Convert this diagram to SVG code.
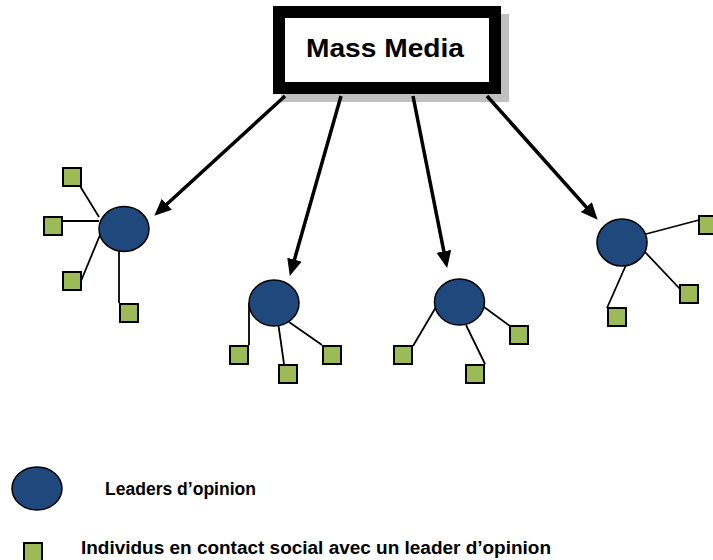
<svg xmlns="http://www.w3.org/2000/svg" width="713" height="560" viewBox="0 0 713 560">
  <style>
    .leader { fill: #1f497d; stroke: #000; stroke-width: 1.5; }
    .person { fill: #9bbb59; stroke: #000; stroke-width: 2; }
    .link { stroke: #000; stroke-width: 1.8; fill: none; }
    .arrow { stroke: #000; stroke-width: 3.5; fill: none; marker-end: url(#head); }
    .label { font-family: "Liberation Sans", Arial, sans-serif; font-weight: bold; fill: #000; }
  </style>
  <defs>
    <marker id="head" markerUnits="userSpaceOnUse" markerWidth="19" markerHeight="16" refX="6" refY="7.5" orient="auto">
      <path d="M0,0 L17,7.5 L0,15 Z" fill="#000"/>
    </marker>
  </defs>
  <rect width="713" height="560" fill="#fff"/>

  <!-- Source box -->
  <g id="mass-media">
    <rect x="281" y="14" width="228" height="88" fill="#c0c0c0"/>
    <rect x="279" y="12" width="216" height="76" fill="#fff" stroke="#000" stroke-width="12"/>
    <text class="label" x="385" y="57" font-size="26" text-anchor="middle" textLength="158" lengthAdjust="spacingAndGlyphs">Mass Media</text>
  </g>

  <!-- Flows from the media to each opinion leader -->
  <g id="connectors">
    <line class="arrow" x1="285" y1="96" x2="162.4" y2="208.3"/>
    <line class="arrow" x1="341" y1="96" x2="292.8" y2="265.4"/>
    <line class="arrow" x1="413" y1="96" x2="445" y2="257.2"/>
    <line class="arrow" x1="487" y1="96" x2="590.3" y2="211.6"/>

    <!-- leader 1 contacts -->
    <line class="link" x1="80" y1="186" x2="99" y2="217"/>
    <line class="link" x1="62" y1="221" x2="99" y2="221"/>
    <line class="link" x1="81" y1="281" x2="100" y2="235"/>
    <line class="link" x1="119" y1="251" x2="119" y2="303"/>
    <!-- leader 2 contacts -->
    <line class="link" x1="249" y1="303" x2="249" y2="345"/>
    <line class="link" x1="278" y1="322" x2="284" y2="364"/>
    <line class="link" x1="289" y1="322" x2="322" y2="345"/>
    <!-- leader 3 contacts -->
    <line class="link" x1="413" y1="346" x2="436" y2="307"/>
    <line class="link" x1="466" y1="325" x2="485" y2="364"/>
    <line class="link" x1="484" y1="307" x2="510" y2="326"/>
    <!-- leader 4 contacts -->
    <line class="link" x1="646" y1="234" x2="699" y2="220"/>
    <line class="link" x1="645" y1="252" x2="680" y2="289"/>
    <line class="link" x1="626" y1="265" x2="607" y2="308"/>
  </g>

  <g id="leader-1">
    <ellipse class="leader" cx="124" cy="229" rx="25" ry="22.5"/>
    <rect class="person" x="63" y="168" width="18" height="18"/>
    <rect class="person" x="44" y="217" width="18" height="18"/>
    <rect class="person" x="63" y="272" width="18" height="18"/>
    <rect class="person" x="120" y="304" width="18" height="18"/>
  </g>

  <g id="leader-2">
    <ellipse class="leader" cx="274" cy="303" rx="25" ry="23"/>
    <rect class="person" x="230" y="346" width="18" height="18"/>
    <rect class="person" x="279" y="365" width="18" height="18"/>
    <rect class="person" x="323" y="346" width="18" height="18"/>
  </g>

  <g id="leader-3">
    <ellipse class="leader" cx="459.5" cy="302" rx="25" ry="23"/>
    <rect class="person" x="394" y="346" width="18" height="18"/>
    <rect class="person" x="466" y="365" width="18" height="18"/>
    <rect class="person" x="510" y="326" width="18" height="18"/>
  </g>

  <g id="leader-4">
    <ellipse class="leader" cx="622" cy="242.5" rx="25" ry="23.5"/>
    <rect class="person" x="699" y="216" width="18" height="18"/>
    <rect class="person" x="680" y="285" width="18" height="18"/>
    <rect class="person" x="608" y="308" width="18" height="18"/>
  </g>

  <!-- Legend -->
  <g id="legend-leader">
    <ellipse class="leader" cx="37" cy="488.5" rx="25" ry="21.5"/>
    <text class="label" x="105" y="495" font-size="18" textLength="151" lengthAdjust="spacingAndGlyphs">Leaders d’opinion</text>
  </g>
  <g id="legend-person">
    <rect class="person" x="24" y="543" width="18" height="18"/>
    <text class="label" x="81" y="554" font-size="18" textLength="470" lengthAdjust="spacingAndGlyphs">Individus en contact social avec un leader d’opinion</text>
  </g>
</svg>
